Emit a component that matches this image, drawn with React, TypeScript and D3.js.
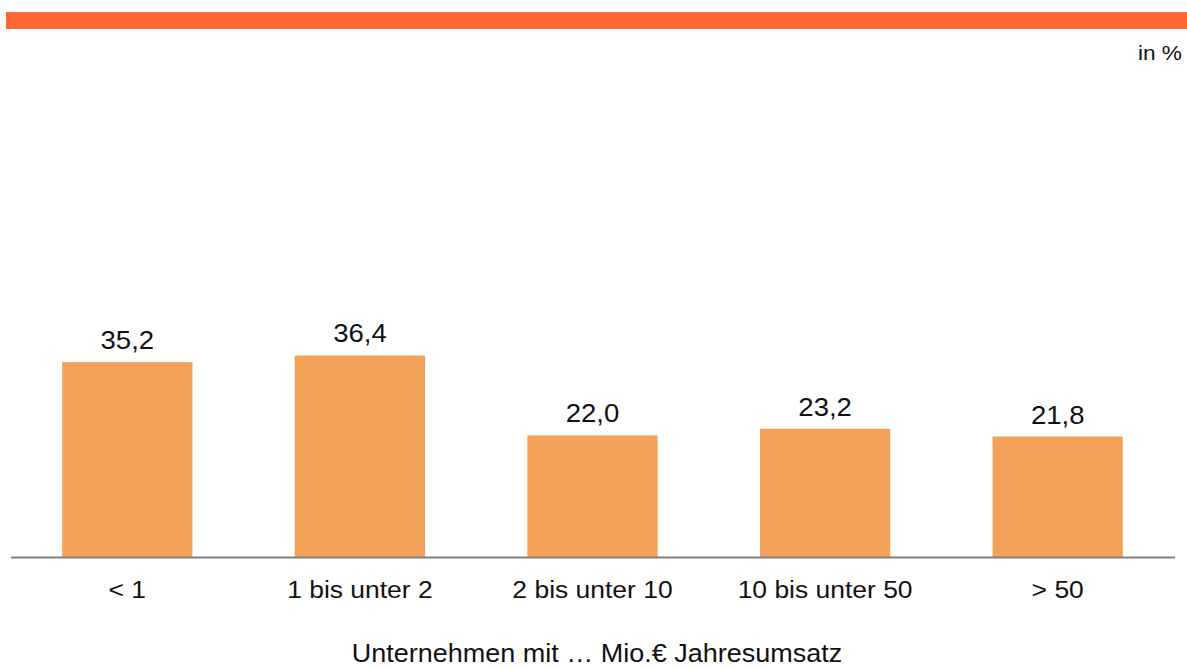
import React from "react";
import * as d3 from "d3";

const categories = ["< 1", "1 bis unter 2", "2 bis unter 10", "10 bis unter 50", "> 50"];
const values = [35.2, 36.4, 22.0, 23.2, 21.8];
const axisTitle = "Unternehmen mit … Mio.€ Jahresumsatz";
const unitLabel = "in %";

const W = 1187;
const H = 669;
const SX = 1.08;

function SText(props: {
  x: number;
  y: number;
  size: number;
  anchor: "start" | "middle" | "end";
  children: React.ReactNode;
}) {
  return (
    <text
      transform={`translate(${props.x},${props.y}) scale(${SX},1)`}
      textAnchor={props.anchor}
      fontSize={props.size}
      fill="#111"
    >
      {props.children}
    </text>
  );
}

export default function App() {
  const x = d3
    .scaleBand<string>()
    .domain(categories)
    .range([11, 1174])
    .paddingInner(0.44)
    .paddingOuter(0.22);
  const baseY = 557.5;
  const y = d3.scaleLinear().domain([0, 50]).range([baseY, baseY - 50 * 5.55]);
  const fmt = (v: number) => d3.format(".1f")(v).replace(".", ",");
  const font = "'Liberation Sans', Arial, sans-serif";

  return (
    <svg
      width={W}
      height={H}
      style={{ position: "absolute", left: 0, top: 0, background: "#fff" }}
      fontFamily={font}
    >
      <rect x={6} y={12} width={W - 6} height={17} fill="#FF6633" />
      <SText x={1182} y={60} size={21} anchor="end">
        {unitLabel}
      </SText>
      {categories.map((c, i) => {
        const x0 = x(c)!;
        const bw = x.bandwidth();
        const v = values[i];
        return (
          <g key={c}>
            <rect x={x0} y={y(v)} width={bw} height={baseY - y(v)} fill="#F3A158" />
            <SText x={x0 + bw / 2} y={y(v) - 13} size={25.5} anchor="middle">
              {fmt(v)}
            </SText>
            <SText x={x0 + bw / 2} y={598} size={24.5} anchor="middle">
              {c}
            </SText>
          </g>
        );
      })}
      <line x1={11} x2={1175} y1={baseY} y2={baseY} stroke="#808080" strokeWidth={2} />
      <SText x={597} y={662} size={25} anchor="middle">
        {axisTitle}
      </SText>
    </svg>
  );
}
